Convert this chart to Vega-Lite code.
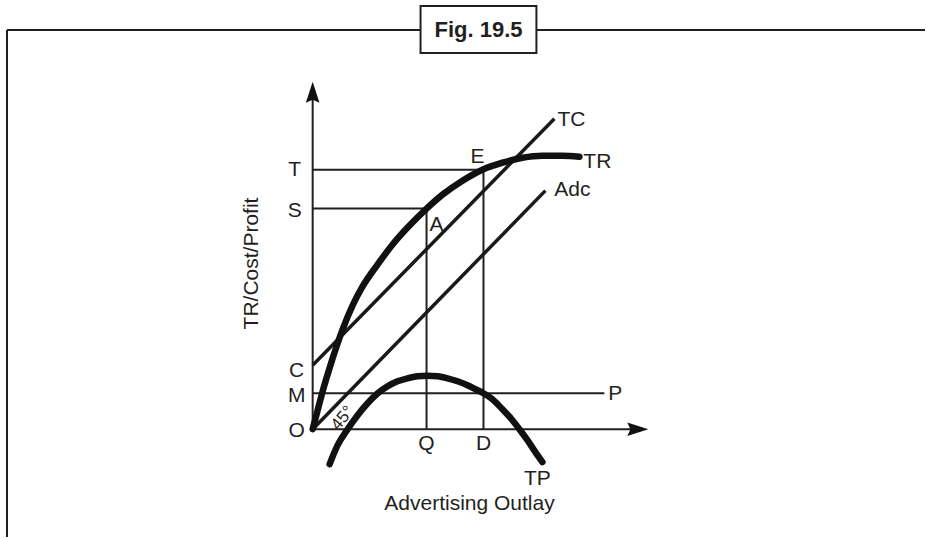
{
  "$schema": "https://vega.github.io/schema/vega-lite/v6.json",
  "width": 926,
  "height": 538,
  "padding": 0,
  "autosize": {"type": "fit", "contains": "padding"},
  "background": "white",
  "config": {"view": {"stroke": null}},
  "datasets": {
    "thin": [
      {"id": "yaxis", "x": 0, "y": 0, "x2": 0, "y2": 34.0},
      {"id": "xaxis", "x": 0, "y": 0, "x2": 32.7, "y2": 0},
      {"id": "T", "x": 0, "y": 26.0, "x2": 17.1, "y2": 26.0},
      {"id": "S", "x": 0, "y": 22.1, "x2": 11.4, "y2": 22.1},
      {"id": "Q", "x": 11.4, "y": 0, "x2": 11.4, "y2": 22.1},
      {"id": "D", "x": 17.1, "y": 0, "x2": 17.1, "y2": 26.0},
      {"id": "MP", "x": 0, "y": 3.6, "x2": 29.2, "y2": 3.6}
    ],
    "frame": [
      {"id": "topL", "x": -30.6, "y": 40.0, "x2": 10.8, "y2": 40.0},
      {"id": "topR", "x": 22.4, "y": 40.0, "x2": 61.3, "y2": 40.0},
      {"id": "left", "x": -30.6, "y": 40.0, "x2": -30.6, "y2": -10.8}
    ],
    "costs": [
      {"id": "TC", "x": 0, "y": 6.4, "x2": 24.2, "y2": 31.1},
      {"id": "Adc", "x": 0, "y": 0, "x2": 23.3, "y2": 23.9}
    ],
    "curves": [
      {"curve": "TR", "x": 0, "y": 0},
      {"curve": "TR", "x": 0.5, "y": 1.9},
      {"curve": "TR", "x": 1.0, "y": 3.8},
      {"curve": "TR", "x": 1.5, "y": 5.5},
      {"curve": "TR", "x": 2.0, "y": 7.1},
      {"curve": "TR", "x": 3.0, "y": 10.0},
      {"curve": "TR", "x": 4.0, "y": 12.4},
      {"curve": "TR", "x": 5.0, "y": 14.3},
      {"curve": "TR", "x": 6.5, "y": 16.5},
      {"curve": "TR", "x": 8.0, "y": 18.5},
      {"curve": "TR", "x": 9.5, "y": 20.2},
      {"curve": "TR", "x": 11.3, "y": 22.0},
      {"curve": "TR", "x": 13.0, "y": 23.5},
      {"curve": "TR", "x": 15.0, "y": 24.9},
      {"curve": "TR", "x": 17.0, "y": 26.0},
      {"curve": "TR", "x": 19.0, "y": 26.7},
      {"curve": "TR", "x": 21.0, "y": 27.2},
      {"curve": "TR", "x": 23.0, "y": 27.4},
      {"curve": "TR", "x": 25.0, "y": 27.4},
      {"curve": "TR", "x": 26.7, "y": 27.3},
      {"curve": "TP", "x": 1.7, "y": -3.5},
      {"curve": "TP", "x": 2.5, "y": -1.6},
      {"curve": "TP", "x": 3.5, "y": 0},
      {"curve": "TP", "x": 4.5, "y": 1.4},
      {"curve": "TP", "x": 5.5, "y": 2.6},
      {"curve": "TP", "x": 6.4, "y": 3.5},
      {"curve": "TP", "x": 7.5, "y": 4.3},
      {"curve": "TP", "x": 8.5, "y": 4.8},
      {"curve": "TP", "x": 9.5, "y": 5.1},
      {"curve": "TP", "x": 10.5, "y": 5.3},
      {"curve": "TP", "x": 11.5, "y": 5.35},
      {"curve": "TP", "x": 12.5, "y": 5.3},
      {"curve": "TP", "x": 13.5, "y": 5.1},
      {"curve": "TP", "x": 14.5, "y": 4.8},
      {"curve": "TP", "x": 15.5, "y": 4.4},
      {"curve": "TP", "x": 16.3, "y": 4.0},
      {"curve": "TP", "x": 17.1, "y": 3.6},
      {"curve": "TP", "x": 18.0, "y": 3.0},
      {"curve": "TP", "x": 19.0, "y": 2.0},
      {"curve": "TP", "x": 20.0, "y": 0.9},
      {"curve": "TP", "x": 20.7, "y": 0},
      {"curve": "TP", "x": 21.5, "y": -1.1},
      {"curve": "TP", "x": 22.3, "y": -2.3},
      {"curve": "TP", "x": 23.0, "y": -3.3}
    ],
    "labels": [
      {"label": "T", "x": -1.8, "y": 26.0},
      {"label": "S", "x": -1.8, "y": 21.9},
      {"label": "C", "x": -1.6, "y": 5.8},
      {"label": "M", "x": -1.6, "y": 3.3},
      {"label": "O", "x": -1.6, "y": -0.2},
      {"label": "Q", "x": 11.4, "y": -1.5},
      {"label": "D", "x": 17.1, "y": -1.5},
      {"label": "TP", "x": 22.5, "y": -5.0},
      {"label": "P", "x": 30.3, "y": 3.5},
      {"label": "TC", "x": 25.9, "y": 31.0},
      {"label": "TR", "x": 28.5, "y": 26.8},
      {"label": "Adc", "x": 26.0, "y": 24.0},
      {"label": "E", "x": 16.5, "y": 27.3},
      {"label": "A", "x": 12.4, "y": 20.5},
      {"label": "Advertising Outlay", "x": 15.7, "y": -7.5}
    ]
  },
  "encoding": {
    "x": {"field": "x", "type": "quantitative", "scale": {"domain": [-31.3, 61.3], "nice": false, "zero": false}, "axis": null},
    "y": {"field": "y", "type": "quantitative", "scale": {"domain": [-10.8, 43.0], "nice": false, "zero": false}, "axis": null}
  },
  "layer": [
    {
      "data": {"name": "frame"},
      "mark": {"type": "rule", "color": "#231f20", "strokeWidth": 2},
      "encoding": {"x2": {"field": "x2"}, "y2": {"field": "y2"}}
    },
    {
      "data": {"values": [{"x": 10.8, "y": 42.4, "x2": 22.4, "y2": 37.7}]},
      "mark": {"type": "rect", "fill": "white", "stroke": "#231f20", "strokeWidth": 2},
      "encoding": {"x2": {"field": "x2"}, "y2": {"field": "y2"}}
    },
    {
      "data": {"values": [{"label": "Fig. 19.5", "x": 16.6, "y": 40.0}]},
      "mark": {"type": "text", "font": "Liberation Sans Narrow, Liberation Sans", "fontWeight": "bold", "fontSize": 22, "color": "#231f20", "align": "center", "baseline": "middle"},
      "encoding": {"text": {"field": "label"}}
    },
    {
      "data": {"name": "thin"},
      "mark": {"type": "rule", "color": "#231f20", "strokeWidth": 2},
      "encoding": {"x2": {"field": "x2"}, "y2": {"field": "y2"}}
    },
    {
      "data": {"name": "costs"},
      "mark": {"type": "rule", "color": "#1a1a1a", "strokeWidth": 3.5},
      "encoding": {"x2": {"field": "x2"}, "y2": {"field": "y2"}}
    },
    {
      "data": {"name": "curves"},
      "mark": {"type": "line", "color": "#111111", "strokeWidth": 6.5, "interpolate": "monotone", "strokeCap": "round"},
      "encoding": {"detail": {"field": "curve"}}
    },
    {
      "data": {"values": [{"id": "up", "x": 0, "y": 33.75}]},
      "mark": {"type": "point", "filled": true, "color": "#111111", "opacity": 1, "size": 441, "shape": "M0,-1L0.65,1L0,0.7L-0.65,1Z"},
      "encoding": {}
    },
    {
      "data": {"values": [{"id": "right", "x": 32.55, "y": 0}]},
      "mark": {"type": "point", "filled": true, "color": "#111111", "opacity": 1, "size": 441, "shape": "M1,0L-1,0.65L-0.7,0L-1,-0.65Z"},
      "encoding": {}
    },
    {
      "data": {"name": "labels"},
      "mark": {"type": "text", "font": "Liberation Sans", "fontSize": 21, "color": "#231f20", "align": "center", "baseline": "middle"},
      "encoding": {"text": {"field": "label"}}
    },
    {
      "data": {"values": [{"label": "TR/Cost/Profit", "x": -6.1, "y": 16.6}]},
      "mark": {"type": "text", "font": "Liberation Sans", "fontSize": 21, "color": "#231f20", "align": "center", "baseline": "middle", "angle": 270},
      "encoding": {"text": {"field": "label"}}
    },
    {
      "data": {"values": [{"label": "45°", "x": 3.0, "y": 1.1}]},
      "mark": {"type": "text", "font": "Liberation Sans", "fontSize": 17, "color": "#231f20", "align": "center", "baseline": "middle", "angle": 310},
      "encoding": {"text": {"field": "label"}}
    }
  ]
}
